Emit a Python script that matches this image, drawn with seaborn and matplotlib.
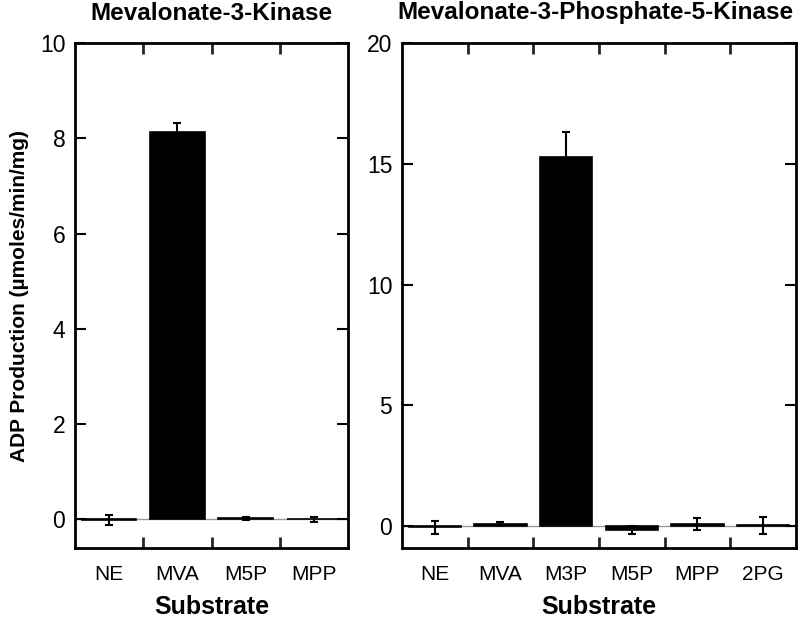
import matplotlib
matplotlib.use("Agg")
import matplotlib.pyplot as plt
import seaborn as sns
import pandas as pd
import numpy as np
from matplotlib.ticker import FixedLocator

sns.set_theme(style="white")
plt.rcParams['font.family'] = ['Liberation Sans', 'DejaVu Sans']
plt.rcParams['text.color'] = 'black'
plt.rcParams['axes.labelcolor'] = 'black'

left_cats = ["NE", "MVA", "M5P", "MPP"]
left_vals = [-0.01, 8.13, 0.02, 0.0]
left_err = [0.11, 0.19, 0.03, 0.05]

right_cats = ["NE", "MVA", "M3P", "M5P", "MPP", "2PG"]
right_vals = [-0.05, 0.10, 15.28, -0.15, 0.10, 0.05]
right_err = [0.28, 0.06, 1.05, 0.18, 0.25, 0.35]

left_title = "Mevalonate-3-Kinase"
right_title = "Mevalonate-3-Phosphate-5-Kinase"
ylabel = "ADP Production (µmoles/min/mg)"
xlabel = "Substrate"

fig = plt.figure(figsize=(8, 6.19), dpi=100)
axL = fig.add_axes([75/800, 1-548/619, 273/800, 505/619])
axR = fig.add_axes([402/800, 1-548/619, 394/800, 505/619])

def draw(ax, cats, vals, errs, ylim, yticks):
    df = pd.DataFrame({"cat": cats, "val": vals})
    ax.axhline(0, color="#999999", lw=1.0, zorder=0)
    sns.barplot(data=df, x="cat", y="val", ax=ax, color="black",
                edgecolor="black", linewidth=1.2, width=0.8, saturation=1, zorder=2)
    ax.errorbar(np.arange(len(cats)), vals, yerr=errs, fmt="none",
                ecolor="black", elinewidth=1.5, capsize=3, capthick=1.5, zorder=3)
    ax.set_xlim(-0.5, len(cats) - 0.5)
    ax.set_ylim(*ylim)
    ax.set_yticks(yticks)
    ax.set_yticklabels([str(t) for t in yticks])
    ax.xaxis.set_minor_locator(FixedLocator(np.arange(0.5, len(cats) - 0.5, 1)))
    ax.tick_params(axis="x", which="major", length=0, labelsize=15, pad=12, colors="black")
    ax.tick_params(axis="x", which="minor", direction="in", length=8, width=2,
                   top=True, bottom=True)
    ax.tick_params(axis="y", which="major", direction="in", length=8, width=1.5,
                   left=True, right=True, labelsize=16.5, colors="black", pad=7)
    for s in ax.spines.values():
        s.set_visible(True)
        s.set_color("black")
        s.set_linewidth(2)
    ax.set_xlabel(xlabel, fontsize=18, fontweight="bold", labelpad=8, color="black")
    ax.set_ylabel("")

draw(axL, left_cats, left_vals, left_err, (-0.6, 10), [0, 2, 4, 6, 8, 10])
draw(axR, right_cats, right_vals, right_err, (-0.9, 20), [0, 5, 10, 15, 20])

axL.set_ylabel(ylabel, fontsize=15, fontweight="bold", labelpad=8, color="black")
fig.text(211/800, 1-13/619, left_title, ha="center", va="center",
         fontsize=17.5, fontweight="bold", color="black")
fig.text(595/800, 1-13/619, right_title, ha="center", va="center",
         fontsize=17.5, fontweight="bold", color="black")

fig.savefig("out.png", dpi=100)
